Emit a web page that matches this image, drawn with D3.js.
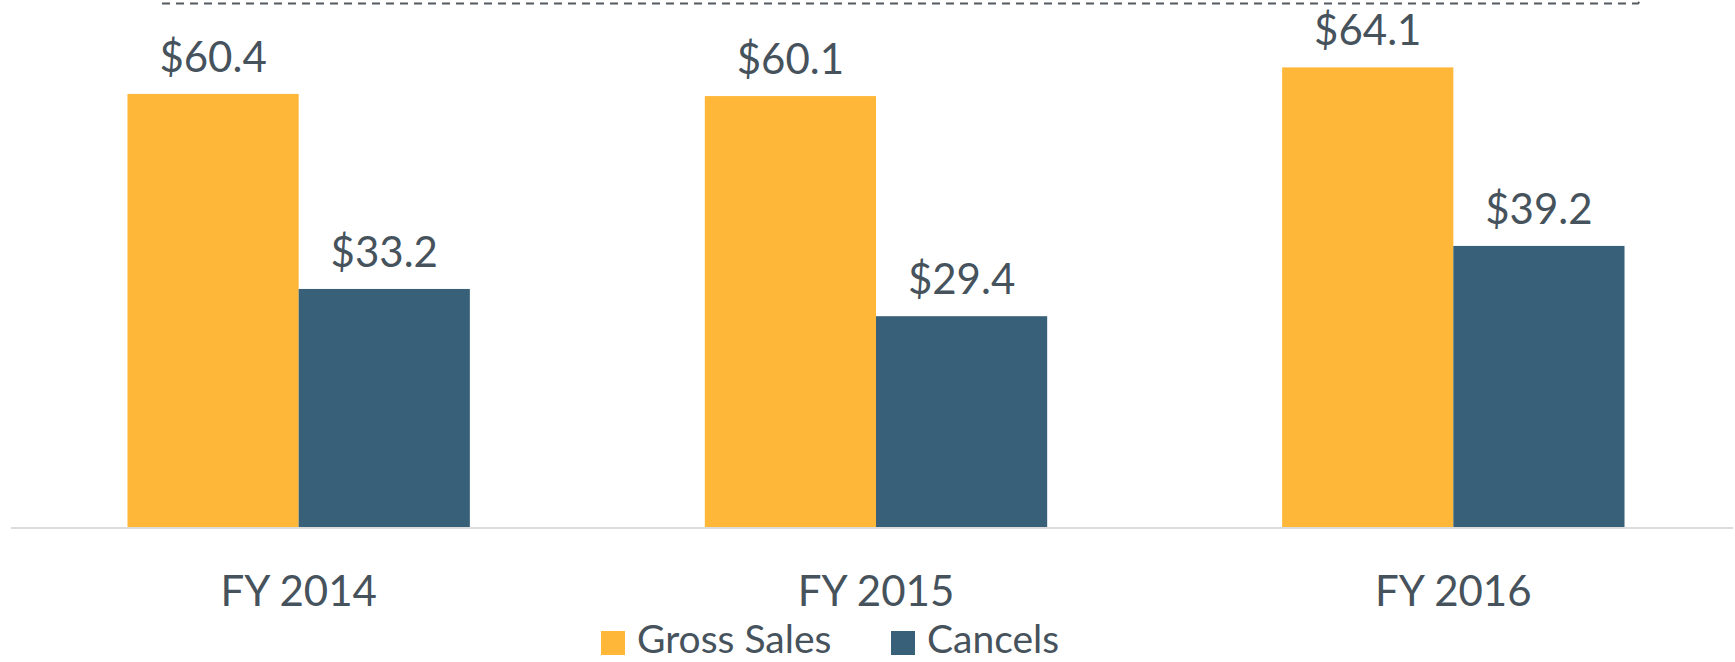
<html>
<head>
  <script src="https://d3js.org/d3.v7.min.js"></script>
  <style>
    body { margin: 0; background: #fff; }
    text { font-family: Lato, sans-serif; fill: #46525c; }
  </style>
</head>
<body>
  <svg id="chart" width="1735" height="662"></svg>
  <script>
    const years = ['FY 2014', 'FY 2015', 'FY 2016'];
    const seriesNames = ['Gross Sales', 'Cancels'];
    const grossSales = [60.4, 60.1, 64.1];
    const cancels = [33.2, 29.4, 39.2];
    const colors = ['#ffb739', '#386078'];

    const svg = d3.select('svg#chart');
    const baseY = 527;

    const data = years.map((y, i) => ({ year: y, values: [grossSales[i], cancels[i]] }));

    const x0 = d3.scaleBand()
      .domain(years)
      .range([10, 1742])
      .paddingInner(0.407)
      .paddingOuter(0.2035);

    const x1 = d3.scaleBand()
      .domain(seriesNames)
      .range([0, x0.bandwidth()]);

    const yScale = d3.scaleLinear()
      .domain([0, 73.5])
      .range([baseY, 0]);

    const color = d3.scaleOrdinal().domain(seriesNames).range(colors);

    // baseline
    svg.append('line')
      .attr('x1', 11).attr('x2', 1733)
      .attr('y1', baseY + 1).attr('y2', baseY + 1)
      .attr('stroke', '#dcdcdc')
      .attr('stroke-width', 2);

    // dashed bracket on top
    svg.append('path')
      .attr('d', 'M162,3.5 L1638,3.5 L1640,1')
      .attr('fill', 'none')
      .attr('stroke', '#555b61')
      .attr('stroke-width', 2)
      .attr('stroke-dasharray', '8,6');

    const groups = svg.selectAll('g.year').data(data)
      .join('g')
      .attr('class', 'year')
      .attr('transform', d => `translate(${x0(d.year)},0)`);

    groups.selectAll('rect')
      .data(d => d.values.map((v, i) => ({ key: seriesNames[i], value: v })))
      .join('rect')
      .attr('x', d => x1(d.key))
      .attr('width', x1.bandwidth())
      .attr('y', d => yScale(d.value))
      .attr('height', d => baseY - yScale(d.value))
      .attr('fill', d => color(d.key));

    groups.selectAll('text.val')
      .data(d => d.values.map((v, i) => ({ key: seriesNames[i], value: v })))
      .join('text')
      .attr('class', 'val')
      .attr('x', d => x1(d.key) + x1.bandwidth() / 2)
      .attr('y', d => yScale(d.value) - 22)
      .attr('text-anchor', 'middle')
      .style('font-size', '42px')
      .text(d => '$' + d.value.toFixed(1));

    const bottomAxis = d3.axisBottom(x0).tickSize(0).tickPadding(49);
    const axisG = svg.append('g')
      .attr('transform', `translate(0,${baseY})`)
      .call(bottomAxis);
    axisG.select('.domain').remove();
    axisG.selectAll('text')
      .style('font-size', '42px')
      .style('font-family', 'Lato, sans-serif')
      .attr('fill', '#46525c');

    // legend
    const legendX = [601, 891];
    const legend = svg.selectAll('g.legend').data(seriesNames)
      .join('g')
      .attr('class', 'legend')
      .attr('transform', (d, i) => `translate(${legendX[i]},630)`);

    legend.append('rect')
      .attr('y', 1)
      .attr('width', 24).attr('height', 24)
      .attr('fill', d => color(d));

    legend.append('text')
      .attr('x', 36)
      .attr('y', 23)
      .style('font-size', '39px')
      .text(d => d);
  </script>
</body>
</html>
